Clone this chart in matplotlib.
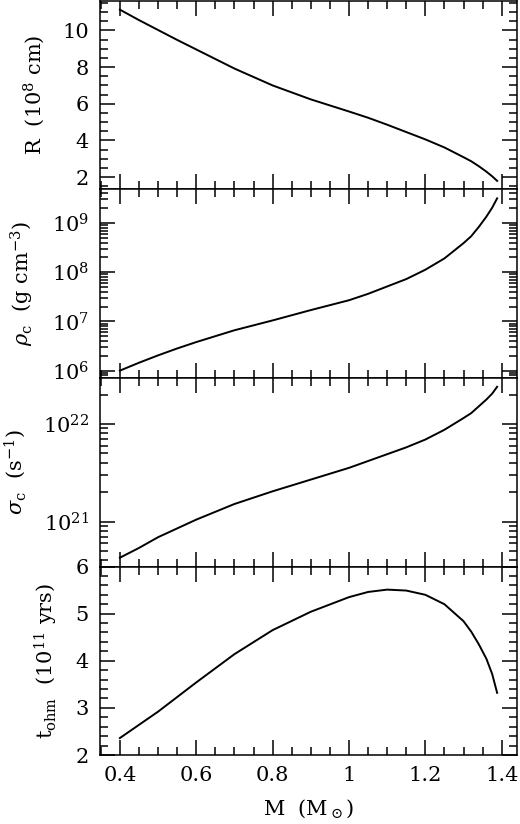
import matplotlib
matplotlib.use("Agg")
import matplotlib.pyplot as plt
from matplotlib.ticker import MultipleLocator, FuncFormatter, LogLocator, NullFormatter

# Data
mass = [0.40, 0.45, 0.50, 0.55, 0.60, 0.70, 0.80, 0.90, 1.00, 1.05, 1.10, 1.15,
        1.20, 1.25, 1.30, 1.32, 1.34, 1.36, 1.375, 1.388]
radius = [11.13, 10.56, 10.02, 9.48, 8.96, 7.92, 7.00, 6.24, 5.58, 5.24, 4.86, 4.46,
          4.06, 3.62, 3.09, 2.87, 2.60, 2.30, 2.05, 1.80]
log_rho = [6.00, 6.16, 6.31, 6.45, 6.58, 6.82, 7.02, 7.23, 7.43, 7.56, 7.71, 7.86,
           8.05, 8.28, 8.59, 8.73, 8.92, 9.13, 9.31, 9.50]
log_sigma = [20.63, 20.73, 20.84, 20.93, 21.02, 21.18, 21.31, 21.43, 21.55, 21.62, 21.69, 21.76,
             21.84, 21.94, 22.06, 22.11, 22.18, 22.25, 22.31, 22.38]
t_ohm = [2.36, 2.64, 2.92, 3.23, 3.54, 4.14, 4.65, 5.04, 5.35, 5.46, 5.51, 5.49,
         5.40, 5.20, 4.84, 4.62, 4.35, 4.04, 3.72, 3.32]

rho = [10 ** v for v in log_rho]
sigma = [10 ** v for v in log_sigma]

plt.rcParams['font.family'] = ['DejaVu Serif']
plt.rcParams['mathtext.fontset'] = 'dejavuserif'
plt.rcParams['font.size'] = 15
plt.rcParams['axes.linewidth'] = 1.1

fig = plt.figure(figsize=(5.2, 8.24), dpi=100)
axes = fig.subplots(4, 1, sharex=True)
fig.subplots_adjust(left=0.1923, right=0.9942, top=0.9988, bottom=0.0837, hspace=0)

for ax in axes:
    ax.tick_params(which='both', direction='in', top=True, right=True, width=1.1)
    ax.tick_params(which='major', length=11, pad=8)
    ax.tick_params(which='minor', length=5.5)

ax1, ax2, ax3, ax4 = axes

ax1.plot(mass, radius, color='black', lw=1.4)
ax1.set_ylim(1.33, 11.6)
ax1.yaxis.set_major_locator(MultipleLocator(2))
ax1.yaxis.set_minor_locator(MultipleLocator(0.5))
ax1.set_ylabel(r'R  (10$^{8}$ cm)', labelpad=11)

ax2.plot(mass, rho, color='black', lw=1.4)
ax2.set_yscale('log')
ax2.set_ylim(10 ** 5.85, 10 ** 9.68)
ax2.yaxis.set_major_locator(LogLocator(base=10, numticks=10))
ax2.yaxis.set_minor_locator(LogLocator(base=10, subs=range(2, 10), numticks=20))
ax2.yaxis.set_minor_formatter(NullFormatter())
ax2.set_ylabel(r'$\rho_{\rm c}$  (g cm$^{-3}$)', labelpad=11)

ax3.plot(mass, sigma, color='black', lw=1.4)
ax3.set_yscale('log')
ax3.set_ylim(10 ** 20.54, 10 ** 22.47)
ax3.yaxis.set_major_locator(LogLocator(base=10, numticks=10))
ax3.yaxis.set_minor_locator(LogLocator(base=10, subs=range(2, 10), numticks=20))
ax3.yaxis.set_minor_formatter(NullFormatter())
ax3.set_ylabel(r'$\sigma_{\rm c}$  (s$^{-1}$)', labelpad=11)

ax4.plot(mass, t_ohm, color='black', lw=1.4)
ax4.set_ylim(2, 6)
ax4.yaxis.set_major_locator(MultipleLocator(1))
ax4.yaxis.set_minor_locator(MultipleLocator(0.2))
ax4.set_ylabel(r't$_{\rm ohm}$  (10$^{11}$ yrs)', labelpad=11)

ax4.set_xlim(0.348, 1.44)
ax4.xaxis.set_major_locator(MultipleLocator(0.2))
ax4.xaxis.set_minor_locator(MultipleLocator(0.05))
ax4.xaxis.set_major_formatter(FuncFormatter(lambda v, p: '%g' % round(v, 2)))
ax4.set_xlabel(r'M  (M$_\odot$)', labelpad=9)

fig.savefig('out.png', dpi=100)
